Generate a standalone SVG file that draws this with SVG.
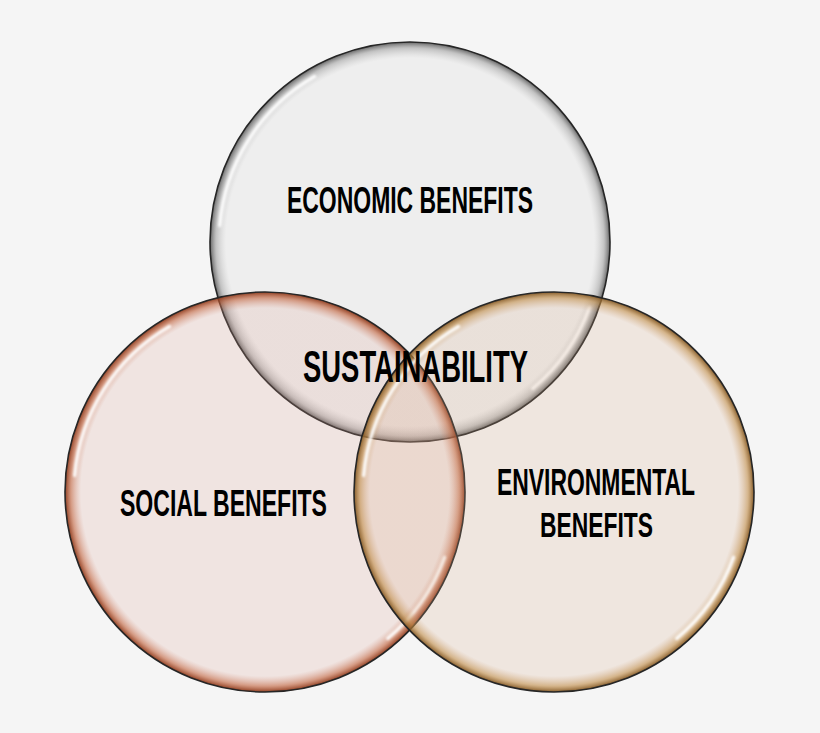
<svg xmlns="http://www.w3.org/2000/svg" width="820" height="733" viewBox="0 0 820 733">
  <defs>
    <radialGradient id="gTop" cx="0.5" cy="0.5" r="0.5">
      <stop offset="0" stop-color="#d2d2d2" stop-opacity="0.2"/>
      <stop offset="0.92" stop-color="#d2d2d2" stop-opacity="0.2"/>
      <stop offset="0.97" stop-color="#9a9a9a" stop-opacity="0.55"/>
      <stop offset="1" stop-color="#555555" stop-opacity="0.9"/>
    </radialGradient>
    <radialGradient id="gSoc" cx="0.5" cy="0.5" r="0.5">
      <stop offset="0" stop-color="#dca091" stop-opacity="0.2"/>
      <stop offset="0.92" stop-color="#dca091" stop-opacity="0.2"/>
      <stop offset="0.97" stop-color="#c0603a" stop-opacity="0.6"/>
      <stop offset="1" stop-color="#8a3618" stop-opacity="0.95"/>
    </radialGradient>
    <radialGradient id="gEnv" cx="0.5" cy="0.5" r="0.5">
      <stop offset="0" stop-color="#d7aa87" stop-opacity="0.2"/>
      <stop offset="0.92" stop-color="#d7aa87" stop-opacity="0.2"/>
      <stop offset="0.97" stop-color="#bf8a45" stop-opacity="0.6"/>
      <stop offset="1" stop-color="#7f5420" stop-opacity="0.95"/>
    </radialGradient>
    <filter id="soft" x="-20%" y="-20%" width="140%" height="140%">
      <feGaussianBlur stdDeviation="1.3"/>
    </filter>
  </defs>
  <style>
    .ring { stroke: #262626; stroke-width: 1.6; }
    .hl { fill: none; stroke: #ffffff; stroke-width: 3.5; stroke-linecap: round; opacity: 0.9; filter: url(#soft); }
    .lbl { font-family: "Liberation Sans", Arial, sans-serif; font-weight: 700; fill: #000000; }
  </style>
  <rect width="820" height="733" fill="#f5f5f5"/>

  <g id="economic">
    <circle class="ring" cx="410" cy="242" r="200" fill="url(#gTop)"/>
    <path class="hl" d="M 219.7 225.4 A 191 191 0 0 1 314.5 76.6"/>
    <path class="hl" d="M 589.5 307.3 A 191 191 0 0 1 532.8 388.3"/>
  </g>
  <g id="social">
    <circle class="ring" cx="265" cy="492" r="200" fill="url(#gSoc)"/>
    <path class="hl" d="M 74.7 475.4 A 191 191 0 0 1 169.5 326.6"/>
    <path class="hl" d="M 444.5 557.3 A 191 191 0 0 1 387.8 638.3"/>
  </g>
  <g id="environmental">
    <circle class="ring" cx="554" cy="492" r="200" fill="url(#gEnv)"/>
    <path class="hl" d="M 363.7 475.4 A 191 191 0 0 1 458.5 326.6"/>
    <path class="hl" d="M 733.5 557.3 A 191 191 0 0 1 676.8 638.3"/>
  </g>

  <g id="labels">
    <text class="lbl" x="287" y="213" font-size="36" textLength="246" lengthAdjust="spacingAndGlyphs">ECONOMIC BENEFITS</text>
    <text class="lbl" x="303" y="382" font-size="44" textLength="225" lengthAdjust="spacingAndGlyphs">SUSTAINABILITY</text>
    <text class="lbl" x="120" y="516" font-size="37" textLength="207" lengthAdjust="spacingAndGlyphs">SOCIAL BENEFITS</text>
    <text class="lbl" x="497" y="495" font-size="37" textLength="198" lengthAdjust="spacingAndGlyphs">ENVIRONMENTAL</text>
    <text class="lbl" x="540" y="537" font-size="35" textLength="113" lengthAdjust="spacingAndGlyphs">BENEFITS</text>
  </g>
</svg>
